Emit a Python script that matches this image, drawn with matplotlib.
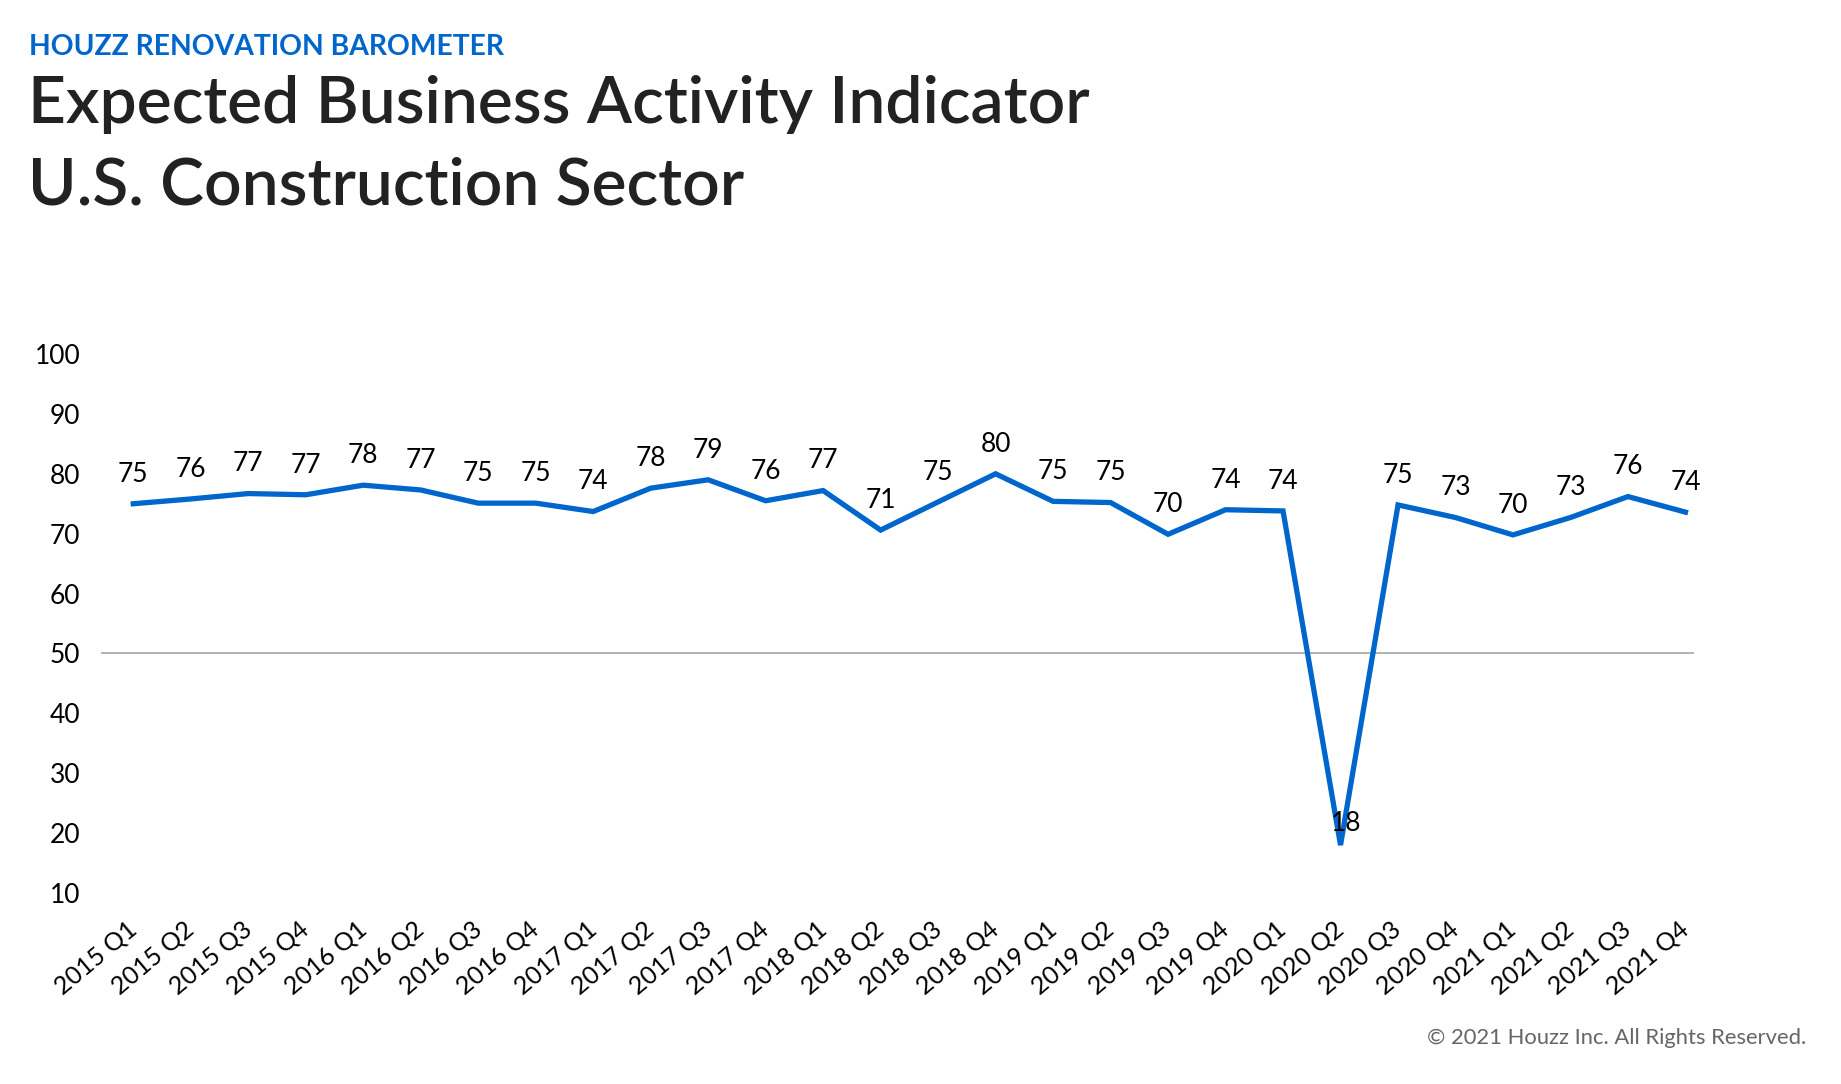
import numpy as np
import matplotlib.pyplot as plt

plt.rcParams["font.family"] = ["Lato", "DejaVu Sans"]

quarters = ["2015 Q1", "2015 Q2", "2015 Q3", "2015 Q4",
            "2016 Q1", "2016 Q2", "2016 Q3", "2016 Q4",
            "2017 Q1", "2017 Q2", "2017 Q3", "2017 Q4",
            "2018 Q1", "2018 Q2", "2018 Q3", "2018 Q4",
            "2019 Q1", "2019 Q2", "2019 Q3", "2019 Q4",
            "2020 Q1", "2020 Q2", "2020 Q3", "2020 Q4",
            "2021 Q1", "2021 Q2", "2021 Q3", "2021 Q4"]
values = [75.0, 75.8, 76.7, 76.5, 78.1, 77.3, 75.1, 75.1,
          73.7, 77.6, 79.0, 75.5, 77.2, 70.6, 75.3, 80.0,
          75.4, 75.2, 69.9, 74.0, 73.8, 18.0, 74.8, 72.7,
          69.8, 72.7, 76.2, 73.6]
shown = [75, 76, 77, 77, 78, 77, 75, 75, 74, 78, 79, 76, 77, 71,
         75, 80, 75, 75, 70, 74, 74, 18, 75, 73, 70, 73, 76, 74]
yticks = [10, 20, 30, 40, 50, 60, 70, 80, 90, 100]

blue = "#0066cc"
dark = "#222222"

fig = plt.figure(figsize=(18.41, 10.84), dpi=100)
ax = fig.add_axes([0.0549, 0.1762, 0.8653, 0.4972])

x = np.arange(len(values))
ax.axhline(50, color="#a6a6a6", lw=1.2, zorder=1)
ax.plot(x, values, color=blue, lw=3.8, solid_joinstyle="miter",
        clip_on=False, zorder=3)

for i, (v, s) in enumerate(zip(values, shown)):
    dx = 4 if s == 18 else 0
    dy = 10 if s == 18 else 16
    ax.annotate(str(s), (i, v), xytext=(dx, dy), textcoords="offset points",
                ha="center", va="baseline", fontsize=19, color="black",
                zorder=4, annotation_clip=False)

ax.set_xlim(-0.56, 27.15)
ax.set_ylim(10, 100)
ax.set_yticks(yticks)
ax.set_xticks(x)
ax.set_xticklabels(quarters, rotation=40, ha="right", va="center",
                   rotation_mode="anchor", fontsize=18)
ax.tick_params(axis="x", length=0, pad=24)
ax.tick_params(axis="y", length=0, pad=15, labelsize=19)
for sp in ax.spines.values():
    sp.set_visible(False)

fig.text(0.016, 0.9493, "HOUZZ RENOVATION BAROMETER", color=blue,
         fontsize=20.3, fontweight="bold", va="baseline", ha="left")
fig.text(0.015, 0.8865, "Expected Business Activity Indicator", color=dark,
         fontsize=47.4, fontweight="semibold", va="baseline", ha="left")
fig.text(0.015, 0.8118, "U.S. Construction Sector", color=dark,
         fontsize=47.4, fontweight="semibold", va="baseline", ha="left")
fig.text(0.981, 0.0369, "\u00a9 2021 Houzz Inc. All Rights Reserved.",
         color="#666666", fontsize=15.8, va="baseline", ha="right")

fig.savefig("out.png", dpi=100)
